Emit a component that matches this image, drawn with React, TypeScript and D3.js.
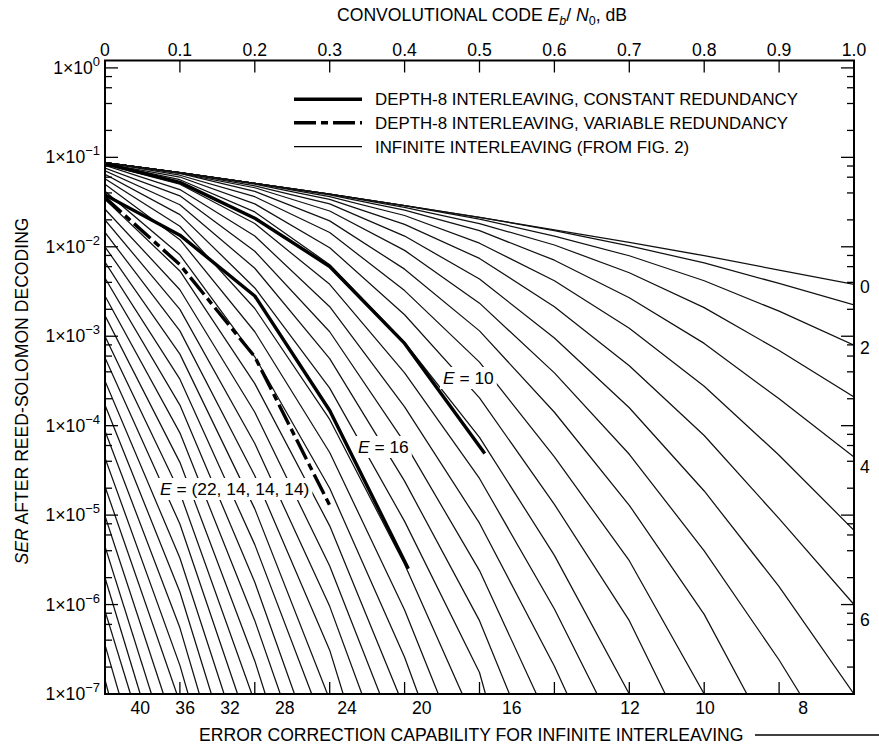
import React, { useEffect, useRef } from 'react';
import * as d3 from 'd3';

// Eb/N0 (dB) at which the infinite interleaving curves were read
const ebNoSamples = [0, 0.1, 0.2, 0.3, 0.4, 0.5, 0.6, 0.7, 0.8, 0.9, 1.0];

// error correction capability E of every thin curve
const infiniteE = [
  0, 1, 2, 3, 4, 5, 6, 7, 8, 9, 10, 11, 12, 13, 14, 15, 16, 17, 18, 19, 20, 21,
  22, 23, 24, 25, 26, 27, 28, 29, 30, 31, 32, 33, 34, 35, 36, 37, 38, 39, 40, 41, 42,
];

// log10(SER) of each thin curve at the samples above (until it leaves the plot)
const infiniteLogSer = [
  [-1.06, -1.17, -1.29, -1.41, -1.54, -1.67, -1.81, -1.95, -2.1, -2.26, -2.42],
  [-1.06, -1.17, -1.29, -1.41, -1.54, -1.67, -1.82, -1.99, -2.18, -2.41, -2.65],
  [-1.06, -1.17, -1.29, -1.41, -1.54, -1.69, -1.88, -2.1, -2.38, -2.72, -3.1],
  [-1.06, -1.17, -1.29, -1.41, -1.56, -1.74, -1.98, -2.29, -2.68, -3.16, -3.68],
  [-1.06, -1.17, -1.29, -1.42, -1.59, -1.82, -2.15, -2.57, -3.08, -3.7, -4.35],
  [-1.06, -1.17, -1.29, -1.44, -1.65, -1.96, -2.38, -2.91, -3.56, -4.33, -5.17],
  [-1.06, -1.17, -1.3, -1.47, -1.75, -2.13, -2.67, -3.33, -4.11, -5.04, -6.0],
  [-1.06, -1.17, -1.32, -1.52, -1.88, -2.36, -3.02, -3.8, -4.73, -5.8],
  [-1.06, -1.18, -1.34, -1.6, -2.04, -2.63, -3.41, -4.32, -5.4, -6.62],
  [-1.06, -1.18, -1.38, -1.71, -2.25, -2.94, -3.85, -4.89, -6.11],
  [-1.06, -1.2, -1.44, -1.84, -2.49, -3.29, -4.35, -5.51],
  [-1.07, -1.22, -1.52, -2.01, -2.76, -3.69, -4.88, -6.18],
  [-1.07, -1.25, -1.61, -2.2, -3.07, -4.13, -5.45],
  [-1.08, -1.3, -1.74, -2.42, -3.41, -4.59, -6.05],
  [-1.09, -1.36, -1.88, -2.67, -3.79, -5.09, -6.69],
  [-1.12, -1.43, -2.05, -2.95, -4.19, -5.62],
  [-1.15, -1.53, -2.24, -3.25, -4.62, -6.18],
  [-1.19, -1.64, -2.46, -3.58, -5.07, -6.76],
  [-1.24, -1.77, -2.69, -3.93, -5.55],
  [-1.3, -1.92, -2.95, -4.3, -6.06],
  [-1.38, -2.09, -3.23, -4.7, -6.59],
  [-1.47, -2.27, -3.53, -5.12],
  [-1.58, -2.48, -3.85, -5.57],
  [-1.7, -2.7, -4.2, -6.02],
  [-1.84, -2.94, -4.56, -6.51],
  [-2.0, -3.2, -4.93],
  [-2.17, -3.48, -5.33],
  [-2.35, -3.77, -5.75],
  [-2.55, -4.08, -6.18],
  [-2.77, -4.41, -6.63],
  [-3.0, -4.75],
  [-3.24, -5.1],
  [-3.5, -5.48],
  [-3.77, -5.86],
  [-4.06, -6.26],
  [-4.36, -6.68],
  [-4.68],
  [-5.01],
  [-5.35],
  [-5.7],
  [-6.07],
  [-6.45],
  [-6.84],
];

// Eb/N0 where each thin curve reaches 1e-7 (null: still above it at 1.0 dB)
const infiniteExitEbNo = [
  null, null, null, null, null, null, null, 1.0, 0.928, 0.857, 0.8, 0.748, 0.7,
  0.657, 0.617, 0.576, 0.54, 0.508, 0.477, 0.445, 0.418, 0.392, 0.367, 0.343,
  0.318, 0.297, 0.276, 0.253, 0.234, 0.214, 0.196, 0.177, 0.159, 0.142, 0.126,
  0.111, 0.096, 0.078, 0.062, 0.047, 0.034, 0.019, 0.005,
];

// depth-8 interleaving, constant redundancy
const depth8E10EbNo = [0, 0.1, 0.2, 0.3, 0.4, 0.507];
const depth8E10LogSer = [-1.07, -1.28, -1.68, -2.22, -3.08, -4.31];
const depth8E16EbNo = [0, 0.1, 0.2, 0.3, 0.405];
const depth8E16LogSer = [-1.42, -1.87, -2.55, -3.83, -5.6];

// depth-8 interleaving, variable redundancy E = (22, 14, 14, 14)
const variableEbNo = [0, 0.1, 0.2, 0.3];
const variableLogSer = [-1.45, -2.2, -3.23, -4.89];

// axes
const topTicks = [0, 0.1, 0.2, 0.3, 0.4, 0.5, 0.6, 0.7, 0.8, 0.9, 1.0];
const topTickLabels = ['0', '0.1', '0.2', '0.3', '0.4', '0.5', '0.6', '0.7', '0.8', '0.9', '1.0'];
const decadeExponents = [0, -1, -2, -3, -4, -5, -6, -7];
const minorMantissas = [2, 4, 6, 8];

// E labels along the bottom and the right edge
const bottomLabels = ['40', '36', '32', '28', '24', '20', '16', '12', '10', '8'];
const bottomLabelEbNo = [0.047, 0.107, 0.167, 0.24, 0.323, 0.423, 0.543, 0.701, 0.801, 0.932];
const rightLabels = ['0', '2', '4', '6'];
const rightLabelLogSer = [-2.45, -3.13, -4.46, -6.17];

const legendLabels = [
  'DEPTH-8 INTERLEAVING, CONSTANT REDUNDANCY',
  'DEPTH-8 INTERLEAVING, VARIABLE REDUNDANCY',
  'INFINITE INTERLEAVING (FROM FIG. 2)',
];

const FONT = '"Liberation Sans", Arial, Helvetica, sans-serif';

const Chart = () => {
  const ref = useRef<SVGSVGElement>(null);

  useEffect(() => {
    const svg = d3.select(ref.current);
    svg.selectAll('*').remove();

    const left = 105;
    const right = 854;
    const top = 60.5;
    const bottom = 694;

    const x = d3.scaleLinear().domain([0, 1]).range([left, right]);
    const y = d3.scaleLog().domain([1e-7, 1.21]).range([bottom, top]);

    const line = d3
      .line<[number, number]>()
      .x((d) => x(d[0]))
      .y((d) => y(Math.pow(10, d[1])));

    svg
      .append('defs')
      .append('clipPath')
      .attr('id', 'plot-clip')
      .append('rect')
      .attr('x', left)
      .attr('y', top)
      .attr('width', right - left)
      .attr('height', bottom - top);

    const plot = svg.append('g').attr('clip-path', 'url(#plot-clip)');

    // infinite interleaving family
    infiniteLogSer.forEach((vals, i) => {
      const pts: [number, number][] = vals.map((v, j) => [ebNoSamples[j], v]);
      const exit = infiniteExitEbNo[i];
      if (exit !== null) pts.push([exit, -7]);
      plot
        .append('path')
        .attr('class', `e-${infiniteE[i]}`)
        .attr('d', line(pts))
        .attr('fill', 'none')
        .attr('stroke', '#111')
        .attr('stroke-width', 1.25)
        .attr('stroke-linejoin', 'round');
    });

    // depth-8 curves
    const thick = (ebNo: number[], logSer: number[], dash: string | null) => {
      const p = plot
        .append('path')
        .attr('d', line(ebNo.map((e, i) => [e, logSer[i]] as [number, number])))
        .attr('fill', 'none')
        .attr('stroke', '#000')
        .attr('stroke-width', 3.4)
        .attr('stroke-linejoin', 'round');
      if (dash) p.attr('stroke-dasharray', dash);
    };
    thick(depth8E10EbNo, depth8E10LogSer, null);
    thick(depth8E16EbNo, depth8E16LogSer, null);
    thick(variableEbNo, variableLogSer, '22 5 7 5');

    // curve labels with a white box behind them
    const curveLabel = (px: number, py: number, rest: string) => {
      const g = svg.append('g');
      const t = g
        .append('text')
        .attr('x', px)
        .attr('y', py)
        .attr('font-family', FONT)
        .attr('font-size', 17.4)
        .attr('fill', '#000');
      t.append('tspan').attr('font-style', 'italic').text('E');
      t.append('tspan').text(rest);
      const b = (t.node() as SVGTextElement).getBBox();
      g.insert('rect', 'text')
        .attr('x', b.x - 3)
        .attr('y', b.y - 1)
        .attr('width', b.width + 6)
        .attr('height', b.height + 2)
        .attr('fill', '#fff');
    };
    curveLabel(443, 384, ' = 10');
    curveLabel(358, 453, ' = 16');
    curveLabel(160, 495, ' = (22, 14, 14, 14)');

    // ticks
    const ticks = svg.append('g').attr('stroke', '#000').attr('stroke-width', 1.3);
    topTicks.slice(1, -1).forEach((t) => {
      ticks.append('line').attr('x1', x(t)).attr('x2', x(t)).attr('y1', top).attr('y2', top + 12);
      ticks.append('line').attr('x1', x(t)).attr('x2', x(t)).attr('y1', bottom).attr('y2', bottom - 12);
    });
    decadeExponents.forEach((e) => {
      const v = Math.pow(10, e);
      if (e > -7) {
        ticks.append('line').attr('x1', left).attr('x2', left + 13).attr('y1', y(v)).attr('y2', y(v));
        ticks.append('line').attr('x1', right).attr('x2', right - 13).attr('y1', y(v)).attr('y2', y(v));
      }
      if (e < 0) {
        minorMantissas.forEach((m) => {
          const mv = m * v;
          ticks.append('line').attr('x1', left).attr('x2', left + 7).attr('y1', y(mv)).attr('y2', y(mv));
          ticks.append('line').attr('x1', right).attr('x2', right - 7).attr('y1', y(mv)).attr('y2', y(mv));
        });
      }
    });

    // frame
    svg
      .append('rect')
      .attr('x', left)
      .attr('y', top)
      .attr('width', right - left)
      .attr('height', bottom - top)
      .attr('fill', 'none')
      .attr('stroke', '#000')
      .attr('stroke-width', 2);

    const txt = svg
      .append('g')
      .attr('font-family', FONT)
      .attr('font-size', 17.6)
      .attr('fill', '#000');

    // top axis labels
    topTicks.forEach((t, i) => {
      txt.append('text').attr('x', x(t)).attr('y', 56).attr('text-anchor', 'middle').text(topTickLabels[i]);
    });

    // left axis labels
    decadeExponents.forEach((e) => {
      const t = txt
        .append('text')
        .attr('x', 100)
        .attr('y', y(Math.pow(10, e)) + 6)
        .attr('text-anchor', 'end');
      t.append('tspan').text('1×10');
      t.append('tspan')
        .attr('dy', -8)
        .attr('font-size', 13)
        .text(e === 0 ? '0' : `−${-e}`);
    });

    // bottom E labels
    bottomLabels.forEach((l, i) => {
      txt
        .append('text')
        .attr('x', x(bottomLabelEbNo[i]))
        .attr('y', 714)
        .attr('text-anchor', 'middle')
        .text(l);
    });

    // right E labels
    rightLabels.forEach((l, i) => {
      txt
        .append('text')
        .attr('x', 865)
        .attr('y', y(Math.pow(10, rightLabelLogSer[i])) + 6)
        .attr('text-anchor', 'middle')
        .text(l);
    });

    // top title
    const title = txt.append('text').attr('x', 482).attr('y', 21).attr('text-anchor', 'middle');
    title.append('tspan').text('CONVOLUTIONAL CODE ');
    title.append('tspan').attr('font-style', 'italic').text('E');
    title.append('tspan').attr('font-style', 'italic').attr('font-size', 12.5).attr('dy', 4).text('b');
    title.append('tspan').attr('dy', -4).text('/ ');
    title.append('tspan').attr('font-style', 'italic').text('N');
    title.append('tspan').attr('font-size', 12.5).attr('dy', 4).text('0');
    title.append('tspan').attr('dy', -4).text(', dB');

    // bottom title with its arrow line
    txt.append('text').attr('x', 199).attr('y', 741).text('ERROR CORRECTION CAPABILITY FOR INFINITE INTERLEAVING');
    svg
      .append('line')
      .attr('x1', 755)
      .attr('x2', 879)
      .attr('y1', 735)
      .attr('y2', 735)
      .attr('stroke', '#000')
      .attr('stroke-width', 1.4);

    // y title
    const yt = txt
      .append('text')
      .attr('transform', 'translate(28, 391) rotate(-90)')
      .attr('text-anchor', 'middle');
    yt.append('tspan').attr('font-style', 'italic').text('SER');
    yt.append('tspan').text(' AFTER REED-SOLOMON DECODING');

    // legend
    const legendY = [99.3, 122.7, 146.7];
    const legendWidth = [3.4, 3.4, 1.25];
    const legendDash = [null, '22 5 7 5', null];
    legendLabels.forEach((l, i) => {
      const ln = svg
        .append('line')
        .attr('x1', 294)
        .attr('x2', 362)
        .attr('y1', legendY[i])
        .attr('y2', legendY[i])
        .attr('stroke', '#000')
        .attr('stroke-width', legendWidth[i]);
      if (legendDash[i]) ln.attr('stroke-dasharray', legendDash[i] as string);
      txt
        .append('text')
        .attr('x', 375)
        .attr('y', legendY[i] + 6)
        .attr('font-size', 16.85)
        .text(l);
    });
  }, []);

  return (
    <svg
      ref={ref}
      width={879}
      height={750}
      style={{ position: 'absolute', left: 0, top: 0, background: '#fff' }}
    />
  );
};

export default function App() {
  return <Chart />;
}
